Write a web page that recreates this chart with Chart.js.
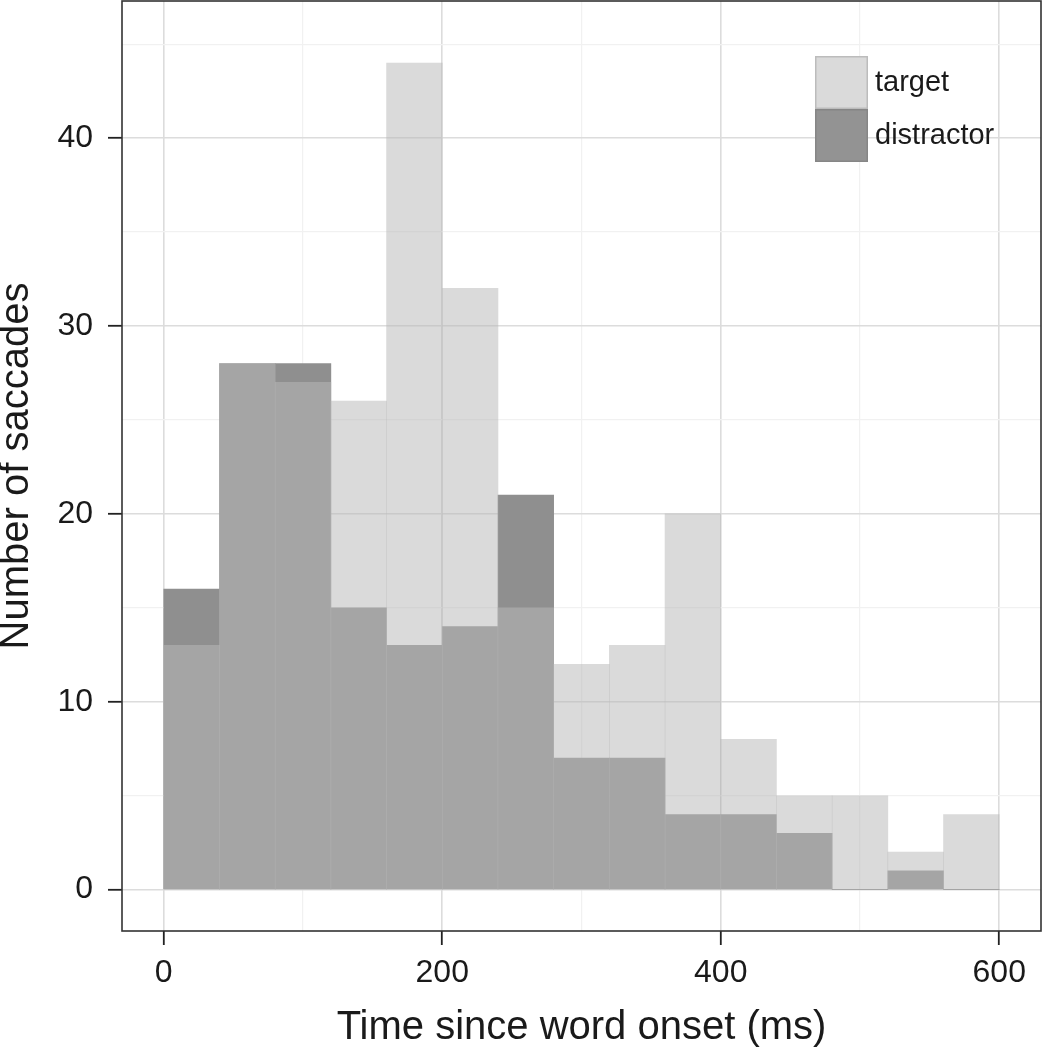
<!DOCTYPE html>
<html>
<head>
<meta charset="utf-8">
<script src="https://cdn.jsdelivr.net/npm/chart.js@4.4.0/dist/chart.umd.min.js"></script>
<style>
  html, body { margin: 0; padding: 0; background: #fff; }
</style>
</head>
<body>
<canvas id="myChart" width="1042" height="1050"></canvas>
<script>
// Histogram data: 40 ms bins from 0 to 600 ms
const binStarts = [0, 40, 80, 120, 160, 200, 240, 280, 320, 360, 400, 440, 480, 520, 560];
const binWidth = 40;
const targetCounts = [13, 28, 27, 26, 44, 32, 15, 12, 13, 20, 8, 5, 5, 2, 4];
const distractorCounts = [16, 28, 28, 15, 13, 14, 21, 7, 7, 4, 4, 3, 0, 1, 0];

// axis breaks (major ones get labels)
const xBreaks = [0, 100, 200, 300, 400, 500, 600];
const xLabels = [0, 200, 400, 600];
const yBreaks = [0, 5, 10, 15, 20, 25, 30, 35, 40, 45];
const yLabels = [0, 10, 20, 30, 40];

const majorGrid = '#dcdcdc';
const minorGrid = '#f1f1f1';
const inkColor = '#1a1a1a';

Chart.defaults.font.family = '"Liberation Sans", Arial, sans-serif';
Chart.defaults.color = inkColor;

const toPoints = counts => counts.map((c, i) => ({ x: binStarts[i] + binWidth / 2, y: c }));

// legend keys drawn inside the panel, top right
const keyStyles = [
  { fill: '#dadada', stroke: '#bcbcbc' },
  { fill: '#939393', stroke: '#868686' }
];

const panelLegend = {
  id: 'panelLegend',
  afterDraw(chart) {
    const { ctx, chartArea } = chart;
    const size = 53;
    const x = chartArea.right - 226;
    let y = chartArea.top + 55;
    ctx.save();
    chart.data.datasets.forEach((ds, i) => {
      ctx.fillStyle = keyStyles[i].fill;
      ctx.fillRect(x, y, size, size);
      ctx.strokeStyle = keyStyles[i].stroke;
      ctx.lineWidth = 1.5;
      ctx.strokeRect(x + 0.75, y + 0.75, size - 1.5, size - 1.5);
      ctx.fillStyle = inkColor;
      ctx.font = '29px "Liberation Sans", Arial, sans-serif';
      ctx.textBaseline = 'middle';
      ctx.textAlign = 'left';
      ctx.fillText(ds.label, x + size + 7, y + size / 2);
      y += size;
    });
    ctx.restore();
  }
};

// panel border like theme_bw
const panelBorder = {
  id: 'panelBorder',
  afterDatasetsDraw(chart) {
    const { ctx, chartArea } = chart;
    ctx.save();
    ctx.strokeStyle = '#333333';
    ctx.lineWidth = 1.6;
    ctx.strokeRect(chartArea.left, chartArea.top, chartArea.width, chartArea.height);
    ctx.restore();
  }
};

const ctx = document.getElementById('myChart');

new Chart(ctx, {
  type: 'bar',
  data: {
    datasets: [{
      label: 'target',
      data: toPoints(targetCounts),
      backgroundColor: 'rgba(185,185,185,0.53)',
      borderWidth: 0
    }, {
      label: 'distractor',
      data: toPoints(distractorCounts),
      backgroundColor: '#8f8f8f',
      borderWidth: 0
    }]
  },
  options: {
    responsive: false,
    animation: false,
    grouped: false,
    barPercentage: 1,
    categoryPercentage: 1,
    layout: { padding: { top: 1, right: 1, left: 0, bottom: 0 } },
    scales: {
      x: {
        type: 'linear',
        offset: false,
        min: -30,
        max: 630,
        afterBuildTicks: axis => { axis.ticks = xBreaks.map(v => ({ value: v })); },
        afterFit: axis => {
          axis.height = 119;
          axis.paddingLeft = 0;
          axis.paddingRight = 0;
        },
        border: { display: false },
        grid: {
          offset: false,
          color: c => xLabels.includes(c.tick.value) ? majorGrid : minorGrid,
          lineWidth: c => xLabels.includes(c.tick.value) ? 1.6 : 1.2,
          tickColor: c => xLabels.includes(c.tick.value) ? '#222' : 'rgba(0,0,0,0)',
          tickWidth: 1.8,
          tickLength: 14
        },
        ticks: {
          autoSkip: false,
          maxRotation: 0,
          padding: 9,
          font: { size: 32 },
          color: inkColor,
          callback: v => xLabels.includes(v) ? String(v) : ''
        },
        title: {
          display: true,
          text: 'Time since word onset (ms)',
          font: { size: 40, lineHeight: 1 },
          color: inkColor,
          padding: { top: 0, bottom: 2 }
        }
      },
      y: {
        min: -2.2,
        max: 47.3,
        afterBuildTicks: axis => { axis.ticks = yBreaks.map(v => ({ value: v })); },
        afterFit: axis => {
          axis.width = 122;
          axis.paddingTop = 0;
          axis.paddingBottom = 0;
        },
        border: { display: false },
        grid: {
          color: c => yLabels.includes(c.tick.value) ? majorGrid : minorGrid,
          lineWidth: c => yLabels.includes(c.tick.value) ? 1.6 : 1.2,
          tickColor: c => yLabels.includes(c.tick.value) ? '#222' : 'rgba(0,0,0,0)',
          tickWidth: 1.8,
          tickLength: 14
        },
        ticks: {
          autoSkip: false,
          padding: 15,
          font: { size: 32 },
          color: inkColor,
          callback: v => yLabels.includes(v) ? String(v) : ''
        },
        title: {
          display: true,
          text: 'Number of saccades',
          font: { size: 40, lineHeight: 1 },
          color: inkColor,
          padding: { top: -3, bottom: 0 }
        }
      }
    },
    plugins: {
      legend: { display: false },
      tooltip: { enabled: false }
    }
  },
  plugins: [panelBorder, panelLegend]
});
</script>
</body>
</html>
